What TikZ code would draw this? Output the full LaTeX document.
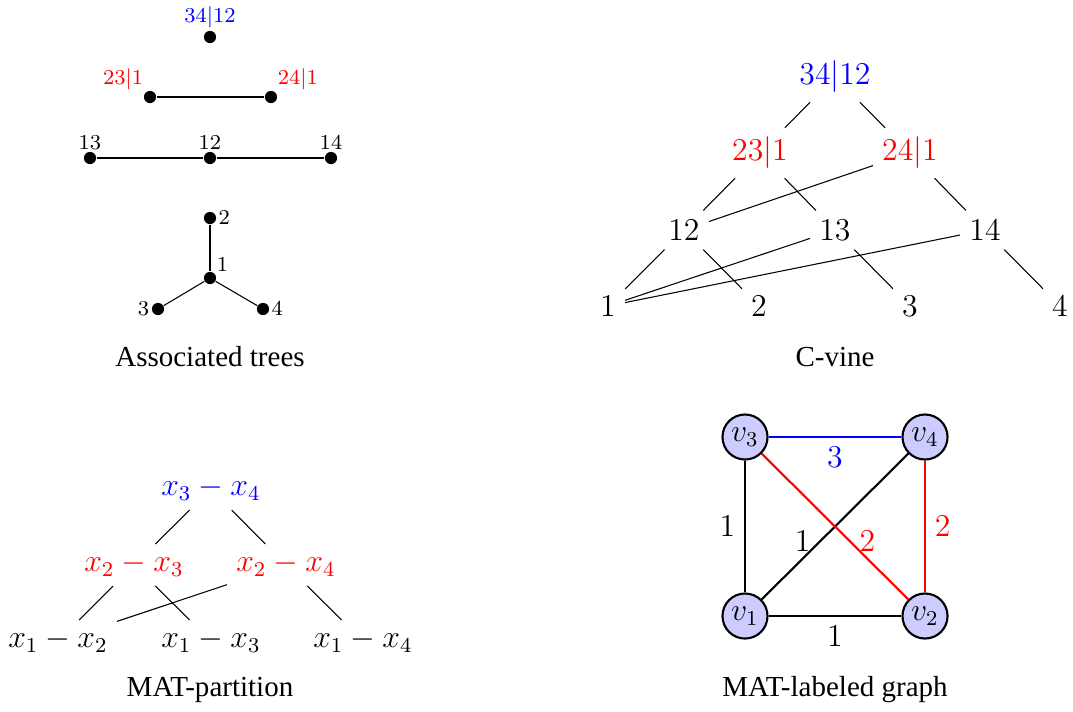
\documentclass[tikz,border=0pt]{standalone}
\usepackage[no-math]{fontspec}
\setmainfont{Liberation Serif}
\usetikzlibrary{positioning}
\tikzset{
  dot/.style={circle,fill=black,inner sep=0pt,minimum size=4.6pt},
  lbl/.style={font=\footnotesize,inner sep=.6pt},
  vn/.style={font=\large},
  vx/.style={circle,draw,thick,fill=blue!20,inner sep=1pt,minimum size=17pt,font=\large},
  wt/.style={font=\large},
  link/.style={draw=black,line width=.4pt},
  wedge/.style={thick},
  captxt/.style={font=\fontsize{10.95pt}{13pt}\selectfont}
}
\begin{document}
\begin{tikzpicture}[x=0.3774pt,y=-0.3774pt]
  \useasboundingbox (0,0) rectangle (1073,711);
  % associated trees
  \node[dot,label={[lbl,text=blue]above:$34|12$}] (a34) at (210,37) {};
  \node[dot,label={[lbl,text=red]above left:$23|1$}] (a23) at (150,97) {};
  \node[dot,label={[lbl,text=red]above right:$24|1$}] (a24) at (271,97) {};
  \draw[link] (a23)--(a24);
  \node[dot,label={[lbl]above:$13$}] (a13) at (90,158) {};
  \node[dot,label={[lbl]above:$12$}] (a12) at (210,158) {};
  \node[dot,label={[lbl]above:$14$}] (a14) at (331,158) {};
  \draw[link] (a13)--(a12); \draw[link] (a12)--(a14);
  \node[dot,label={[lbl]right:$2$}] (a2) at (210,218) {};
  \node[dot,label={[lbl]above right:$1$}] (a1) at (210,278) {};
  \node[dot,label={[lbl]left:$3$}] (a3) at (158,309) {};
  \node[dot,label={[lbl]right:$4$}] (a4) at (263,309) {};
  \draw[link] (a2)--(a1); \draw[link] (a1)--(a3); \draw[link] (a1)--(a4);
  \node[captxt] (capA) at (210,357) {Associated trees};

  % C-vine
  \node[vn,text=blue] (c34) at (835,77) {$34|12$};
  \node[vn,text=red] (c23) at (760,153) {$23|1$};
  \node[vn,text=red] (c24) at (910,153) {$24|1$};
  \node[vn] (c12) at (684,230) {$12$}; \node[vn] (c13) at (835,230) {$13$};
  \node[vn] (c14) at (985,230) {$14$};
  \node[vn] (c1) at (608,306) {$1$}; \node[vn] (c2) at (759,306) {$2$};
  \node[vn] (c3) at (910,306) {$3$}; \node[vn] (c4) at (1060,306) {$4$};
  \draw[link] (c34)--(c23); \draw[link] (c34)--(c24);
  \draw[link] (c23)--(c12); \draw[link] (c23)--(c13);
  \draw[link] (c24)--(c12); \draw[link] (c24)--(c14);
  \draw[link] (c12)--(c1); \draw[link] (c12)--(c2);
  \draw[link] (c13)--(c1); \draw[link] (c13)--(c3);
  \draw[link] (c14)--(c1); \draw[link] (c14)--(c4);
  \node[captxt] (capC) at (835,357) {C-vine};

  % MAT-partition
  \node[vn,text=blue] (m34) at (211,489) {$x_3-x_4$};
  \node[vn,text=red] (m23) at (134,565) {$x_2-x_3$};
  \node[vn,text=red] (m24) at (286,565) {$x_2-x_4$};
  \node[vn] (m12) at (58,641) {$x_1-x_2$}; \node[vn] (m13) at (211,641) {$x_1-x_3$};
  \node[vn] (m14) at (363,641) {$x_1-x_4$};
  \draw[link] (m34)--(m23); \draw[link] (m34)--(m24);
  \draw[link] (m23)--(m12); \draw[link] (m23)--(m13);
  \draw[link] (m24)--(m12); \draw[link] (m24)--(m14);
  \node[captxt] (capM) at (210,690) {MAT-partition};

  % MAT-labeled graph
  \node[vx] (v3) at (745,437) {$v_3$}; \node[vx] (v4) at (925,437) {$v_4$};
  \node[vx] (v1) at (745,616) {$v_1$}; \node[vx] (v2) at (925,616) {$v_2$};
  \draw[wedge,blue] (v3)--node[wt,below] {$3$}(v4);
  \draw[wedge] (v3)--node[wt,left] {$1$}(v1);
  \draw[wedge] (v1)--node[wt,left,pos=.4] {$1$}(v4);
  \draw[wedge,red] (v3)--node[wt,right,pos=.6] {$2$}(v2);
  \draw[wedge,red] (v4)--node[wt,right] {$2$}(v2);
  \draw[wedge] (v1)--node[wt,below] {$1$}(v2);
  \node[captxt] (capG) at (835,690) {MAT-labeled graph};
\end{tikzpicture}
\end{document}
